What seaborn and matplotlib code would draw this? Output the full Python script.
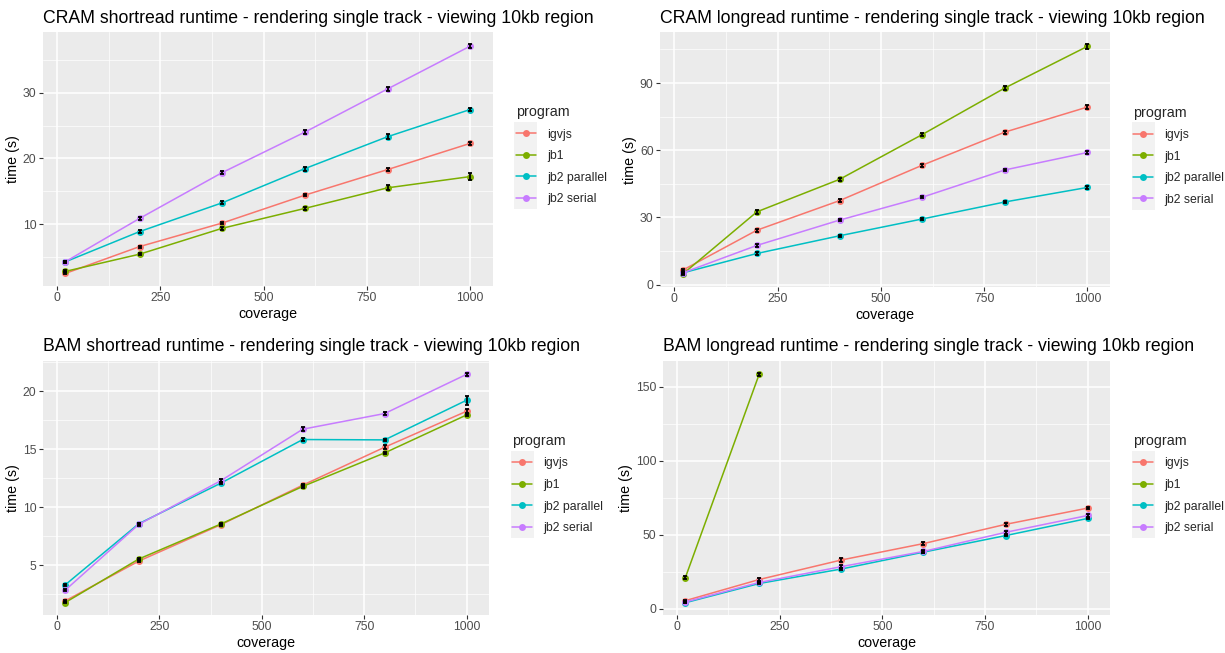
import numpy as np
import pandas as pd
import seaborn as sns
import matplotlib
matplotlib.use("Agg")
import matplotlib.pyplot as plt
from matplotlib.lines import Line2D
from matplotlib.patches import Rectangle
from matplotlib.ticker import MultipleLocator

# ---------------- data ----------------
programs = ["igvjs", "jb1", "jb2 parallel", "jb2 serial"]
colors = ["#F8766D", "#7CAE00", "#00BFC4", "#C77CFF"]
coverage = [20, 200, 400, 600, 800, 1000]

cram_short_time = {
    "igvjs":        [2.54, 6.62, 10.2, 14.43, 18.31, 22.29],
    "jb1":          [2.85, 5.47, 9.4, 12.42, 15.54, 17.25],
    "jb2 parallel": [4.3, 8.9, 13.27, 18.46, 23.3, 27.43],
    "jb2 serial":   [4.31, 10.9, 17.86, 24.0, 30.55, 37.05],
}
cram_short_err = {
    "igvjs":        [0.15, 0.15, 0.2, 0.2, 0.25, 0.25],
    "jb1":          [0.15, 0.15, 0.2, 0.25, 0.4, 0.5],
    "jb2 parallel": [0.2, 0.2, 0.2, 0.3, 0.4, 0.3],
    "jb2 serial":   [0.2, 0.2, 0.2, 0.25, 0.3, 0.35],
}
cram_long_time = {
    "igvjs":        [6.4, 24.3, 37.5, 53.3, 68.1, 79.3],
    "jb1":          [4.6, 32.5, 47.0, 67.0, 87.8, 106.4],
    "jb2 parallel": [5.2, 13.9, 21.8, 29.3, 36.9, 43.4],
    "jb2 serial":   [5.2, 17.5, 28.8, 39.0, 51.2, 59.0],
}
cram_long_err = {
    "igvjs":        [0.4, 0.6, 0.6, 0.7, 0.7, 0.7],
    "jb1":          [0.5, 1.0, 0.8, 0.8, 0.8, 1.1],
    "jb2 parallel": [0.4, 0.5, 0.5, 0.5, 0.5, 0.6],
    "jb2 serial":   [0.4, 0.5, 0.5, 0.5, 0.5, 0.6],
}
bam_short_time = {
    "igvjs":        [1.93, 5.37, 8.5, 11.91, 15.18, 18.28],
    "jb1":          [1.79, 5.55, 8.56, 11.8, 14.69, 17.96],
    "jb2 parallel": [3.31, 8.59, 12.08, 15.84, 15.81, 19.23],
    "jb2 serial":   [2.85, 8.53, 12.29, 16.73, 18.08, 21.46],
}
bam_short_err = {
    "igvjs":        [0.1, 0.1, 0.1, 0.1, 0.15, 0.15],
    "jb1":          [0.07, 0.1, 0.1, 0.1, 0.1, 0.1],
    "jb2 parallel": [0.1, 0.1, 0.1, 0.1, 0.1, 0.4],
    "jb2 serial":   [0.1, 0.1, 0.15, 0.15, 0.15, 0.15],
}
bam_long_time = {
    "igvjs":        [5.4, 19.7, 32.9, 44.0, 57.0, 68.0],
    "jb1":          [21.0, 158.7],
    "jb2 parallel": [4.0, 17.0, 26.8, 38.2, 49.4, 61.0],
    "jb2 serial":   [4.5, 17.7, 28.4, 38.7, 51.6, 63.0],
}
bam_long_err = {
    "igvjs":        [0.6, 0.8, 1.2, 0.8, 0.8, 0.8],
    "jb1":          [0.8, 1.0],
    "jb2 parallel": [0.5, 0.5, 0.6, 0.6, 0.6, 0.6],
    "jb2 serial":   [0.5, 0.5, 0.8, 0.8, 0.8, 0.8],
}

titles = [
    "CRAM shortread runtime - rendering single track - viewing 10kb region",
    "CRAM longread runtime - rendering single track - viewing 10kb region",
    "BAM shortread runtime - rendering single track - viewing 10kb region",
    "BAM longread runtime - rendering single track - viewing 10kb region",
]
ytick_steps = [10, 30, 5, 50]
panel_data = [
    (cram_short_time, cram_short_err),
    (cram_long_time, cram_long_err),
    (bam_short_time, bam_short_err),
    (bam_long_time, bam_long_err),
]

# ---------------- style ----------------
sns.set_theme(style="darkgrid")
plt.rcParams["font.family"] = ["Liberation Sans", "DejaVu Sans"]
plt.rcParams["axes.facecolor"] = "#EBEBEB"
plt.rcParams["grid.color"] = "white"

W, H = 1225, 653
fig = plt.figure(figsize=(W / 100, H / 100), dpi=100)
fig.patch.set_facecolor("white")

# axes rectangles in pixels: left, top, right, bottom
rects_px = [
    (42.7, 32.3, 492.7, 286.0),
    (660.0, 32.3, 1110.0, 287.0),
    (42.7, 361.0, 489.0, 615.0),
    (663.0, 361.0, 1110.0, 615.0),
]

ebar_w = 10  # errorbar width in coverage units (as in ggplot)
legends = []
for i, ((tdict, edict), title, step, (l, t, r, b)) in enumerate(
        zip(panel_data, titles, ytick_steps, rects_px)):
    ax = fig.add_axes([l / W, 1 - b / H, (r - l) / W, (b - t) / H])
    rows = []
    for p in programs:
        for c, v, e in zip(coverage, tdict[p], edict[p]):
            rows.append((c, v, e, p))
    df = pd.DataFrame(rows, columns=["coverage", "time", "err", "program"])

    sns.lineplot(data=df, x="coverage", y="time", hue="program",
                 hue_order=programs, palette=colors, marker="o",
                 markersize=5, markeredgewidth=0, linewidth=1.1,
                 errorbar=None, legend=False, ax=ax, zorder=3)
    for p in programs:
        sub = df[df["program"] == p]
        ax.errorbar(sub["coverage"], sub["time"], yerr=sub["err"], fmt="none",
                    ecolor="black", elinewidth=1.3, capsize=1.6,
                    capthick=1.3, zorder=4)

    # ggplot-like limits: 5% expansion of data range (incl. errorbars)
    xlo = df["coverage"].min() - ebar_w / 2
    xhi = df["coverage"].max() + ebar_w / 2
    xr = xhi - xlo
    ax.set_xlim(xlo - 0.05 * xr, xhi + 0.05 * xr)
    ylo = (df["time"] - df["err"]).min()
    yhi = (df["time"] + df["err"]).max()
    yr = yhi - ylo
    ax.set_ylim(ylo - 0.05 * yr, yhi + 0.05 * yr)

    ax.xaxis.set_major_locator(MultipleLocator(250))
    ax.xaxis.set_minor_locator(MultipleLocator(125))
    ax.yaxis.set_major_locator(MultipleLocator(step))
    ax.yaxis.set_minor_locator(MultipleLocator(step / 2))
    ax.grid(which="major", color="white", linewidth=1.1)
    ax.grid(which="minor", color="white", linewidth=0.5)
    ax.set_axisbelow(True)
    for s in ax.spines.values():
        s.set_visible(False)
    ax.tick_params(which="major", length=2.6, width=0.8, color="#333333",
                   labelcolor="#4D4D4D", labelsize=8.8, pad=2,
                   bottom=True, left=True)
    ax.tick_params(which="minor", length=0)
    ax.set_xlabel("coverage", fontsize=10.3, color="black", labelpad=2)
    ax.set_ylabel("time (s)", fontsize=10.3, color="black", labelpad=2)
    ax.set_title(title, loc="left", fontsize=12.7, color="black", pad=7)

    handles = [Line2D([], [], color=c, marker="o", markersize=5,
                      markeredgewidth=0, linewidth=1.1) for c in colors]
    ax_w, ax_h = r - l, b - t
    leg = ax.legend(handles, programs, title="program", loc="center left",
                    bbox_to_anchor=(1 + 23 / ax_w, 0.5 + 4 / ax_h),
                    frameon=False,
                    fontsize=8.8, title_fontsize=10.3, alignment="left",
                    borderpad=0, borderaxespad=0, handlelength=1.65,
                    handletextpad=0.93, labelspacing=0.78)
    legends.append(leg)

# grey key background behind legend keys (as in ggplot legend.key)
fig.canvas.draw()
renderer = fig.canvas.get_renderer()
inv = fig.transFigure.inverted()
for leg in legends:
    hs = leg.legend_handles
    exts = [h.get_window_extent(renderer) for h in hs]
    cx = np.mean([(e.x0 + e.x1) / 2 for e in exts])
    cys = [(e.y0 + e.y1) / 2 for e in exts]
    half = 11.5
    x0, y0 = inv.transform((cx - half, min(cys) - half))
    x1, y1 = inv.transform((cx + half, max(cys) + half))
    fig.add_artist(Rectangle((x0, y0), x1 - x0, y1 - y0,
                             transform=fig.transFigure, facecolor="#F2F2F2",
                             edgecolor="none", zorder=-1))

fig.savefig("out.png", dpi=100)
